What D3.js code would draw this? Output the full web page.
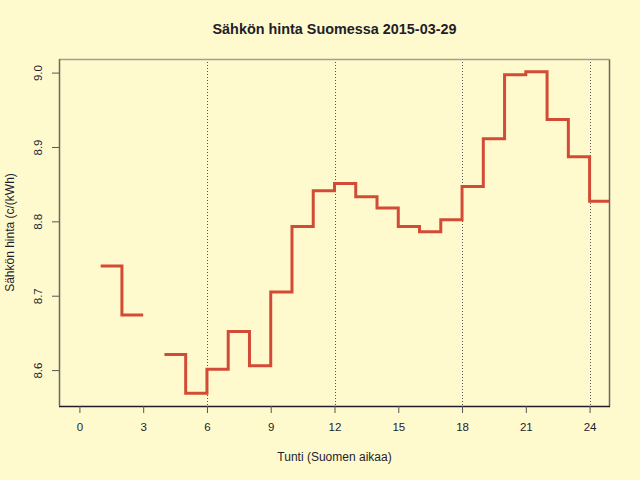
<!DOCTYPE html>
<html>
<head>
<meta charset="utf-8">
<script src="https://cdn.jsdelivr.net/npm/d3@7.9.0/dist/d3.min.js"></script>
<style>
  html, body { margin: 0; padding: 0; background: #fffacd; }
  svg { display: block; font-family: "Liberation Sans", Arial, sans-serif; }
</style>
</head>
<body>
<svg id="chart" width="640" height="480"></svg>
<script>
// tunnit ja hinnat (c/kWh), klo 3 puuttuu (kesäaikaan siirtyminen)
const hours = [1, 2, 3, 4, 5, 6, 7, 8, 9, 10, 11, 12, 13, 14, 15, 16, 17, 18, 19, 20, 21, 22, 23, 24];
const prices = [8.740, 8.674, null, 8.621, 8.569, 8.601, 8.652, 8.606, 8.705, 8.793, 8.841, 8.851,
                8.833, 8.818, 8.793, 8.786, 8.802, 8.847, 8.911, 8.997, 9.001, 8.937, 8.887, 8.827];
const xTicks = [0, 3, 6, 9, 12, 15, 18, 21, 24];
const yTicks = [8.6, 8.7, 8.8, 8.9, 9.0];
const refLines = [6, 12, 18, 24];

const svg = d3.select('#chart');
const W = 640, H = 480;
const margin = { top: 59, right: 30, bottom: 74, left: 59 };
const ink = '#231d2b';

svg.append('rect').attr('width', W).attr('height', H).attr('fill', '#fffacd');

// R-tyylinen 4 % laajennus
const xMin = 0, xMax = 24;
const xPad = (xMax - xMin) * 0.04;
const x = d3.scaleLinear()
    .domain([xMin - xPad, xMax + xPad])
    .range([margin.left, W - margin.right]);

const yVals = prices.filter((d) => d !== null);
const yMin = d3.min(yVals), yMax = d3.max(yVals);
const yPad = (yMax - yMin) * 0.04;
const y = d3.scaleLinear()
    .domain([yMin - yPad, yMax + yPad])
    .range([H - margin.bottom, margin.top]);

// portaan kärkipisteet: jokainen tunti vaakasuoraan seuraavaan asti
let steps = [];
hours.forEach((h, i) => {
    const v = prices[i];
    if (v === null) {
        steps.push({ h: h, v: null });
    } else {
        steps.push({ h: h, v: v });
        steps.push({ h: h + 1, v: v });
    }
});

svg.append('clipPath').attr('id', 'clip')
    .append('rect')
    .attr('x', margin.left).attr('y', margin.top)
    .attr('width', W - margin.left - margin.right)
    .attr('height', H - margin.top - margin.bottom);

// pystyviivat
svg.append('g')
    .selectAll('line')
    .data(refLines)
    .join('line')
    .attr('x1', (d) => Math.round(x(d)) + 0.5)
    .attr('x2', (d) => Math.round(x(d)) + 0.5)
    .attr('y1', margin.top)
    .attr('y2', H - margin.bottom)
    .attr('stroke', '#555')
    .attr('stroke-width', 1)
    .attr('stroke-dasharray', '1,2');

// porrasviiva
let line = d3.line()
    .defined((d) => d.v !== null)
    .x((d) => x(d.h))
    .y((d) => y(d.v));

svg.append('path')
    .datum(steps)
    .attr('clip-path', 'url(#clip)')
    .attr('d', line)
    .attr('fill', 'none')
    .attr('stroke', '#d24b36')
    .attr('stroke-width', 3)
    .attr('stroke-linejoin', 'miter')
    .attr('stroke-linecap', 'butt');

// kehys
const bx = margin.left + 0.5, by = margin.top + 0.5;
const bw = W - margin.left - margin.right - 1, bh = H - margin.top - margin.bottom;
svg.append('line').attr('x1', bx).attr('x2', bx + bw).attr('y1', by).attr('y2', by)
    .attr('stroke', '#a59f8c').attr('stroke-width', 1.5);
svg.append('line').attr('x1', bx + bw).attr('x2', bx + bw).attr('y1', by).attr('y2', by + bh)
    .attr('stroke', '#6e685c').attr('stroke-width', 1.5);

// akselit
const xAxis = svg.append('g')
    .attr('transform', `translate(0,${H - margin.bottom})`)
    .call(d3.axisBottom(x).tickValues(xTicks).tickSize(7).tickPadding(10).tickFormat(d3.format('d')));
xAxis.select('.domain').attr('d', `M${margin.left},0.5H${W - margin.right}`).attr('stroke', ink).attr('stroke-width', 1.5);
xAxis.selectAll('.tick line').attr('stroke', '#555');
xAxis.selectAll('text').attr('font-size', 11.5).attr('fill', ink).attr('font-family', 'Liberation Sans, Arial, sans-serif');

const yAxis = svg.append('g')
    .attr('transform', `translate(${margin.left},0)`)
    .call(d3.axisLeft(y).tickValues(yTicks).tickSize(7).tickFormat(d3.format('.1f')));
yAxis.select('.domain').attr('d', `M0.5,${margin.top}V${H - margin.bottom}`).attr('stroke', '#6e685c').attr('stroke-width', 1.5);
yAxis.selectAll('.tick line').attr('stroke', '#555');
yAxis.selectAll('.tick text')
    .attr('x', null).attr('dy', null)
    .attr('text-anchor', 'middle')
    .attr('transform', 'translate(-21,0) rotate(-90)')
    .attr('dy', '0.35em')
    .attr('font-size', 11.5).attr('fill', ink)
    .attr('font-family', 'Liberation Sans, Arial, sans-serif');

// tekstit
svg.append('text')
    .attr('x', (margin.left + W - margin.right) / 2)
    .attr('y', 34)
    .attr('text-anchor', 'middle')
    .attr('font-weight', 'bold')
    .attr('font-size', 14.4)
    .attr('fill', ink)
    .text('Sähkön hinta Suomessa 2015-03-29');

svg.append('text')
    .attr('x', (margin.left + W - margin.right) / 2)
    .attr('y', 461)
    .attr('text-anchor', 'middle')
    .attr('font-size', 12)
    .attr('fill', ink)
    .text('Tunti (Suomen aikaa)');

svg.append('text')
    .attr('transform', `translate(14,${(margin.top + H - margin.bottom) / 2}) rotate(-90)`)
    .attr('text-anchor', 'middle')
    .attr('font-size', 12)
    .attr('fill', ink)
    .text('Sähkön hinta (c/(kWh)');
</script>
</body>
</html>
